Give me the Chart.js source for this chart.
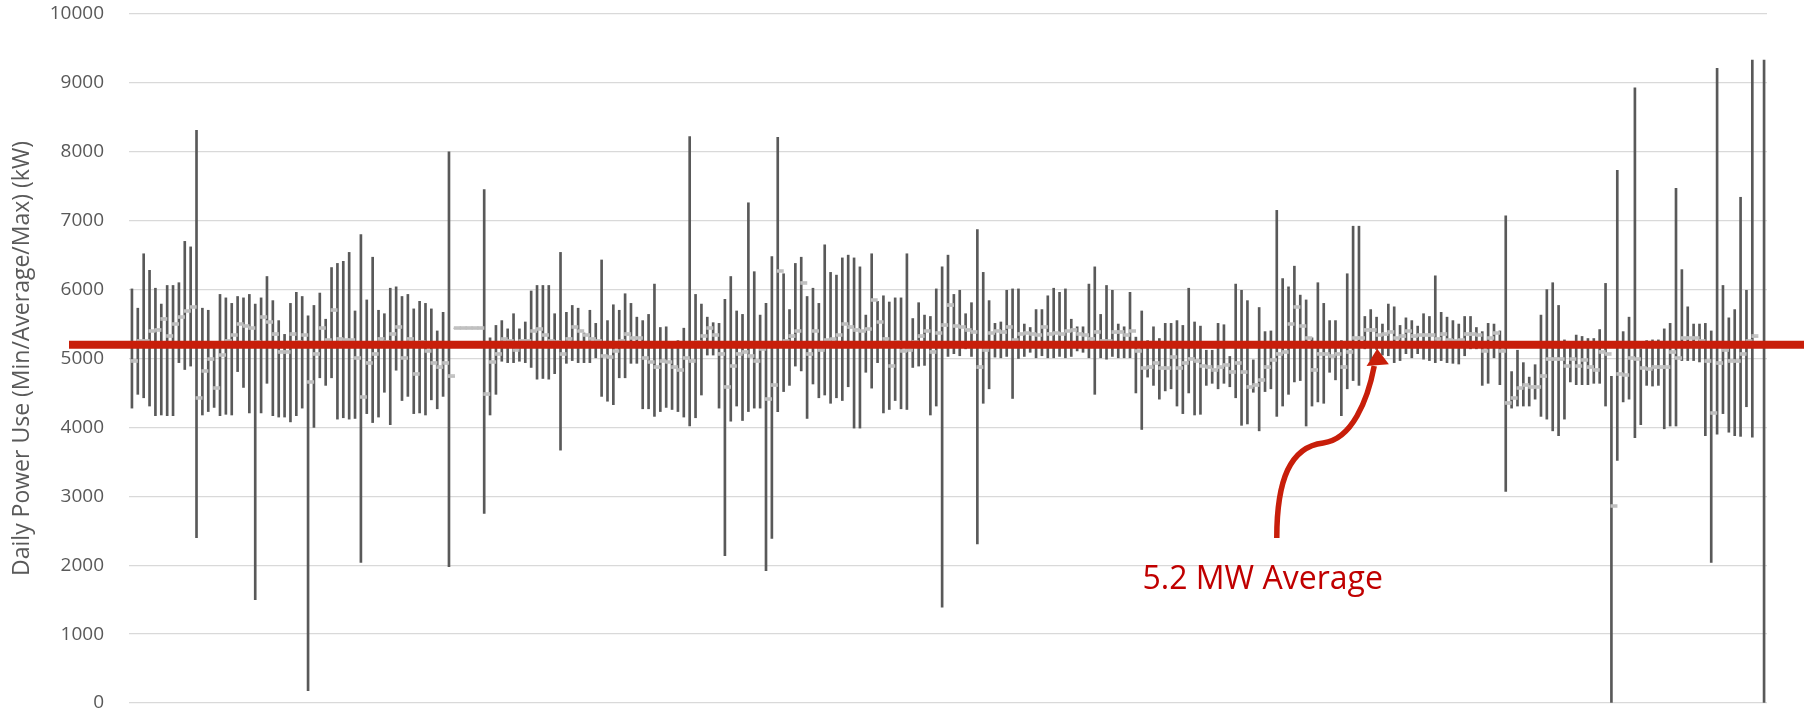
<!DOCTYPE html>
<html>
<head>
<meta charset="utf-8">
<title>Daily Power Use</title>
<script src="https://cdn.jsdelivr.net/npm/chart.js@4.4.1/dist/chart.umd.min.js"></script>
<style>
  html, body { margin: 0; padding: 0; background: #ffffff; }
  #wrap { width: 1804px; height: 714px; position: relative; }
</style>
</head>
<body>
<div id="wrap"><canvas id="chart" width="1804" height="714"></canvas></div>
<script>
// Daily maximum power draw (kW), one entry per day
const maxKW = [
  6010, 5730, 6520, 6280, 6020, 5790, 6060, 6060, 6100, 6700,
  6620, 8310, 5730, 5700, 5160, 5930, 5880, 5800, 5900, 5880,
  5930, 5790, 5880, 6190, 5840, 5550, 5350, 5800, 5960, 5900,
  5620, 5770, 5950, 5570, 6320, 6380, 6410, 6540, 5690, 6800,
  5850, 6470, 5700, 5650, 6020, 6040, 5900, 5930, 5720, 5830,
  5800, 5720, 5400, 5670, 8000, 5440, 5440, 5440, 5440, 5440,
  7450, 5300, 5480, 5550, 5430, 5650, 5430, 5530, 5980, 6060,
  6060, 6060, 5650, 6540, 5670, 5770, 5730, 5370, 5700, 5510,
  6430, 5550, 5780, 5700, 5940, 5800, 5600, 5550, 5640, 6080,
  5450, 5460, 5150, 5260, 5440, 8220, 5930, 5790, 5600, 5520,
  5510, 5860, 6190, 5690, 5640, 7260, 6260, 5630, 5800, 6480,
  8210, 6230, 5710, 6380, 6470, 5900, 6020, 5800, 6650, 6250,
  6210, 6460, 6500, 6460, 6330, 5630, 6520, 5830, 5910, 5820,
  5880, 5880, 6520, 5580, 5810, 5630, 5610, 6010, 6330, 6500,
  5930, 5990, 5650, 5810, 6870, 6250, 5840, 5510, 5530, 5990,
  6010, 6010, 5500, 5450, 5710, 5710, 5910, 6020, 5960, 6010,
  5570, 5460, 5460, 6080, 6330, 5640, 6060, 5990, 5500, 5460,
  5960, 5310, 5690, 5260, 5460, 5290, 5510, 5510, 5550, 5480,
  6020, 5530, 5470, 5120, 5120, 5510, 5490, 5030, 6080, 5990,
  5840, 4980, 5740, 5390, 5400, 7150, 6160, 6040, 6340, 5920,
  5850, 5300, 6100, 5800, 5550, 5550, 5260, 6230, 6920, 6920,
  5610, 5710, 5600, 5500, 5790, 5750, 5480, 5590, 5550, 5470,
  5650, 5610, 6200, 5670, 5600, 5550, 5500, 5610, 5610, 5450,
  5390, 5510, 5500, 5400, 7070, 4810, 5120, 4940, 4730, 4910,
  5630, 6000, 6100, 5770, 5270, 5240, 5340, 5320, 5290, 5290,
  5420, 6090, 4740, 7730, 5390, 5600, 8930, 5140, 5260, 5270,
  5270, 5430, 5510, 7470, 6290, 5750, 5500, 5500, 5510, 5400,
  9210, 6060, 5590, 5710, 7340, 5990, 9330, null, 9330
];

// Daily minimum power draw (kW)
const minKW = [
  4280, 4480, 4430, 4310, 4170, 4180, 4170, 4170, 4940, 4840,
  4890, 2400, 4180, 4230, 4290, 4170, 4190, 4180, 4810, 4580,
  4210, 1500, 4210, 4640, 4170, 4150, 4150, 4080, 4170, 4280,
  180, 4000, 4720, 4610, 4720, 4120, 4140, 4120, 4130, 2040,
  4200, 4070, 4150, 4510, 4040, 4830, 4390, 4450, 4200, 4210,
  4180, 4400, 4270, 4450, 1980, 5440, 5440, 5440, 5440, 5440,
  2750, 4180, 4480, 4960, 4940, 4940, 4960, 4940, 4870, 4700,
  4710, 4700, 4780, 3670, 4930, 4970, 4940, 4940, 4940, 5010,
  4450, 4380, 4330, 4720, 4720, 4930, 4930, 4270, 4270, 4160,
  4230, 4290, 4260, 4230, 4150, 4020, 4140, 4470, 5050, 5050,
  4280, 2140, 4090, 4310, 4100, 4230, 4280, 4280, 1920, 2390,
  4230, 4520, 4610, 4890, 4820, 4130, 4630, 4430, 4470, 4350,
  4430, 4390, 4590, 3990, 3990, 4800, 4570, 4940, 4210, 4260,
  4390, 4270, 4260, 4870, 4890, 4900, 4180, 4310, 1390, 5030,
  5070, 5040, 5140, 5030, 2310, 4350, 4560, 5020, 5010, 5030,
  4420, 5000, 5030, 5090, 5010, 5040, 5010, 5010, 5030, 5010,
  5030, 5110, 5090, 5010, 4480, 5010, 4990, 5030, 5010, 5010,
  5010, 4500, 3970, 4730, 4610, 4410, 4530, 4560, 4310, 4200,
  4500, 4180, 4190, 4610, 4640, 4560, 4640, 4590, 4430, 4030,
  4050, 4510, 3950, 4520, 4560, 4160, 4310, 4480, 4660, 4680,
  4020, 4310, 4370, 4350, 4800, 4690, 4170, 4560, 4680, 4610,
  5140, 4970, 5130, 5050, 5040, 4940, 4970, 5070, 5010, 5070,
  4990, 4970, 4940, 4970, 4940, 4930, 4920, 5040, 5140, 5140,
  4610, 4640, 5010, 4620, 3070, 4280, 4310, 4310, 4310, 4410,
  4160, 4120, 3950, 3880, 4120, 4660, 4620, 4620, 4620, 4640,
  4640, 4310, 0, 3520, 4370, 4410, 3850, 4040, 4610, 4600,
  4610, 3980, 4020, 4020, 4970, 4970, 4970, 4950, 3880, 2040,
  3900, 4200, 3930, 3880, 3870, 4300, 3860, null, 0
];

// Daily average power draw (kW)
const avgKW = [
  4970, 5260, 5260, 5400, 5420, 5580, 5330, 5500, 5600, 5690,
  5750, 4430, 4820, 4990, 4570, 5050, 5260, 5340, 5500, 5470,
  5440, 5240, 5600, 5530, 5350, 5100, 5100, 5350, 5240, 5340,
  4660, 5070, 5440, 5270, 5700, 5290, 5270, 5270, 5010, 4440,
  4940, 5070, 5290, 5240, 5360, 5460, 5010, 5290, 4780, 5240,
  5110, 4940, 4870, 4940, 4740, 5440, 5440, 5440, 5440, 5440,
  4480, 4950, 5070, 5280, 5260, 5130, 5260, 5260, 5400, 5430,
  5340, 5250, 5240, 5060, 5290, 5460, 5400, 5340, 5290, 5260,
  5040, 5020, 5110, 5260, 5350, 5300, 5300, 5010, 4950, 4870,
  4960, 4950, 4870, 4830, 5010, 4970, 5240, 5330, 5440, 5340,
  5070, 4590, 4890, 5070, 5100, 5040, 4960, 5140, 4410, 4610,
  6270, 5260, 5320, 5400, 6100, 5060, 5400, 5130, 5270, 5280,
  5340, 5500, 5450, 5420, 5400, 5430, 5850, 5530, 5290, 4890,
  5240, 5110, 5130, 5240, 5320, 5400, 5100, 5370, 5480, 5770,
  5470, 5460, 5420, 5390, 4870, 5130, 5370, 5400, 5380, 5460,
  5270, 5360, 5370, 5360, 5340, 5460, 5360, 5370, 5360, 5400,
  5420, 5360, 5340, 5290, 5390, 5260, 5250, 5380, 5390, 5340,
  5400, 5110, 4860, 4870, 4940, 4860, 4860, 5020, 4860, 4940,
  5000, 4970, 4890, 4870, 4840, 4870, 4910, 4810, 4940, 4800,
  4590, 4610, 4690, 4870, 4980, 5070, 5090, 5500, 5750, 5470,
  5300, 4840, 5070, 5060, 5030, 5070, 4870, 5100, 5300, 5300,
  5420, 5420, 5340, 5350, 5390, 5300, 5320, 5400, 5320, 5340,
  5340, 5340, 5290, 5350, 5270, 5260, 5270, 5350, 5350, 5340,
  5110, 5300, 5370, 5110, 4360, 4430, 4570, 4610, 4590, 4590,
  4740, 4990, 4990, 4990, 4890, 4990, 4890, 4980, 4870, 4840,
  5100, 5070, 2860, 4780, 4760, 5010, 4990, 4860, 4850, 4870,
  4870, 4870, 5090, 5010, 5300, 5300, 5300, 5260, 4960, 4210,
  4930, 5130, 4970, 4960, 5070, 5250, 5320, null, null
];

// Y-axis ticks (kW)
const yTicks = [0, 1000, 2000, 3000, 4000, 5000, 6000, 7000, 8000, 9000, 10000];

// Overall average and its callout text
const overallAverageKW = 5200;
const calloutText = '5.2 MW Average';

// Day categories (not labelled on the axis)
const days = maxKW.map((_, i) => 'Day ' + (i + 1));

// Floating bars span min..max for each day
const rangeKW = minKW.map((lo, i) => (lo === null || maxKW[i] === null) ? null : [lo, maxKW[i]]);

const AXIS_GREY = '#595959';
const AVG_GREY = '#BFBFBF';
const RED = '#C81E0A';
const TEXT_RED = '#C00000';

// Average marker: a short dash that starts at the day's centre and runs right
const avgMarker = document.createElement('canvas');
avgMarker.width = 14;
avgMarker.height = 4;
(() => {
  const c = avgMarker.getContext('2d');
  c.fillStyle = AVG_GREY;
  c.fillRect(6, 0.25, 7, 3.5);
})();

// Red average line plus curved arrow and label
const averageCallout = {
  id: 'averageCallout',
  afterDatasetsDraw(chart) {
    const { ctx, scales: { x, y } } = chart;
    const step = x.width / days.length;
    const px = (day) => x.left + (day + 0.5) * step;
    const py = (kw) => y.getPixelForValue(kw);

    ctx.save();
    // average line, running past the plot edges
    const yAvg = py(overallAverageKW);
    ctx.strokeStyle = RED;
    ctx.lineWidth = 8;
    ctx.beginPath();
    ctx.moveTo(69, yAvg);
    ctx.lineTo(chart.width, yAvg);
    ctx.stroke();

    // curved arrow rising toward the line
    ctx.lineWidth = 5.5;
    ctx.lineCap = 'butt';
    ctx.beginPath();
    ctx.moveTo(px(195.0), py(2395));
    ctx.bezierCurveTo(px(195.0), py(3240), px(197.3), py(3720), px(202.9), py(3775));
    ctx.bezierCurveTo(px(207.8), py(3820), px(210.5), py(4400), px(211.6), py(4890));
    ctx.stroke();

    ctx.fillStyle = RED;
    ctx.beginPath();
    ctx.moveTo(px(212.1), py(5140));
    ctx.lineTo(px(214.1), py(4915));
    ctx.lineTo(px(210.3), py(4890));
    ctx.closePath();
    ctx.fill();

    // label
    ctx.fillStyle = TEXT_RED;
    ctx.font = '32px "Open Sans"';
    ctx.textAlign = 'center';
    ctx.textBaseline = 'alphabetic';
    ctx.fillText(calloutText, px(192.6), py(1655));
    ctx.restore();
  }
};

new Chart(document.getElementById('chart'), {
  type: 'bar',
  data: {
    labels: days,
    datasets: [
      {
        type: 'line',
        label: 'Average',
        data: avgKW,
        showLine: false,
        spanGaps: false,
        pointStyle: avgMarker,
        pointRadius: 3,
        pointHoverRadius: 3,
        borderColor: AVG_GREY,
        backgroundColor: AVG_GREY,
        order: 0
      },
      {
        type: 'bar',
        label: 'Min / Max',
        data: rangeKW,
        backgroundColor: AXIS_GREY,
        borderWidth: 0,
        barThickness: 2,
        order: 1
      }
    ]
  },
  options: {
    responsive: false,
    animation: false,
    events: [],
    layout: { padding: { left: 0, right: 37, top: 14, bottom: 11 } },
    plugins: {
      legend: { display: false },
      tooltip: { enabled: false }
    },
    scales: {
      x: {
        type: 'category',
        display: false,
        offset: true,
        grid: { display: false }
      },
      y: {
        min: 0,
        max: 10000,
        afterBuildTicks: (scale) => { scale.ticks = yTicks.map(v => ({ value: v })); },
        afterFit: (scale) => {
          scale.width = 129;
          scale.paddingTop = 0;
          scale.paddingBottom = 0;
        },
        border: { display: false },
        grid: { color: '#D9D9D9', lineWidth: 1.3, drawTicks: false },
        ticks: {
          color: AXIS_GREY,
          padding: 25,
          font: { family: '"Open Sans"', size: 19 },
          callback: (v) => String(v)
        },
        title: {
          display: true,
          text: 'Daily Power Use (Min/Average/Max) (kW)',
          color: AXIS_GREY,
          font: { family: '"Open Sans"', size: 23 },
          padding: { top: 9, bottom: 0 }
        }
      }
    }
  },
  plugins: [averageCallout]
});
</script>
</body>
</html>
